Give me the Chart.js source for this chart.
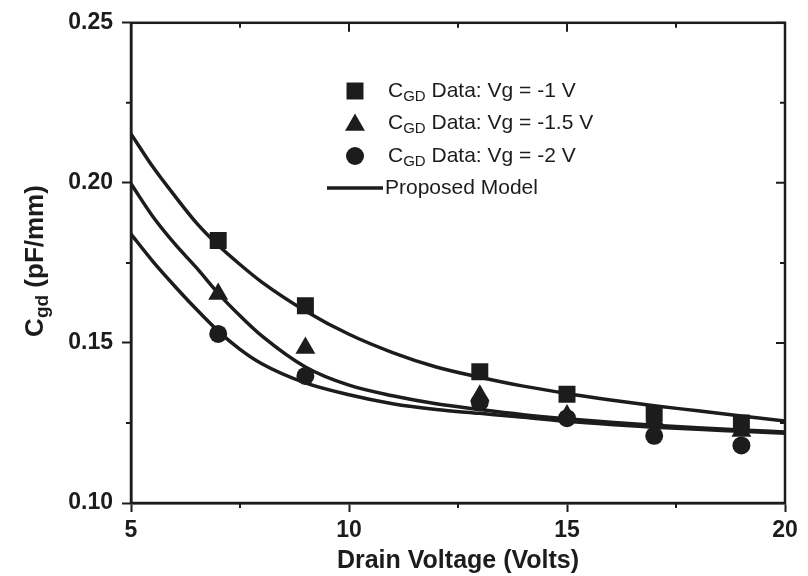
<!DOCTYPE html>
<html lang="en">
<head>
  <meta charset="UTF-8">
  <title>Cgd vs Drain Voltage</title>
  <script src="https://cdn.jsdelivr.net/npm/chart.js"></script>
  <style>
    html, body { margin: 0; padding: 0; background: #fff; }
    #wrap { width: 808px; height: 576px; }
  </style>
</head>
<body>
  <div id="wrap"><canvas id="grafico" width="808" height="576"></canvas></div>

  <script>
    // measured points
    const markerX  = [7, 9, 13, 15, 17, 19];
    const dataVg1  = [0.182, 0.1616, 0.141, 0.134, 0.128, 0.125];
    const dataVg15 = [0.1653, 0.1484, 0.1335, 0.1273, 0.126, 0.1225];
    const dataVg2  = [0.1528, 0.1397, 0.1315, 0.1265, 0.121, 0.118];

    // model curves
    const modelX     = [5, 5.5, 6, 6.5, 7, 7.5, 8, 9, 10, 11, 12, 13, 14, 15, 16, 17, 18, 19, 20];
    const modelVg1   = [0.2153, 0.2050, 0.1960, 0.1875, 0.1805, 0.1745, 0.1690, 0.1600, 0.1527, 0.1470, 0.1425, 0.1393, 0.1365, 0.1342, 0.1322, 0.1304, 0.1288, 0.1272, 0.1256];
    const modelVg15  = [0.1997, 0.1895, 0.1810, 0.1735, 0.1655, 0.1585, 0.1522, 0.1425, 0.1368, 0.1335, 0.1310, 0.1292, 0.1276, 0.1263, 0.1252, 0.1243, 0.1235, 0.1228, 0.1222];
    const modelVg2   = [0.1840, 0.1755, 0.1678, 0.1605, 0.1537, 0.1480, 0.1435, 0.1375, 0.1338, 0.1310, 0.1292, 0.1280, 0.1268, 0.1255, 0.1245, 0.1237, 0.1230, 0.1224, 0.1218];

    const xTicks = [5, 10, 15, 20];
    const yTicks = [0.10, 0.15, 0.20, 0.25];
    const legendNames = ['Data: Vg = -1 V', 'Data: Vg = -1.5 V', 'Data: Vg = -2 V', 'Proposed Model'];

    const ink = '#1c1c1c';
    const fam = '"Liberation Sans", Arial, sans-serif';
    const pts = (xs, ys) => xs.map((x, i) => ({ x: x, y: ys[i] }));

    function curve(ys) {
      return {
        data: pts(modelX, ys),
        showLine: true,
        borderColor: ink,
        borderWidth: 3.5,
        pointRadius: 0,
        cubicInterpolationMode: 'monotone',
        fill: false,
        order: 2
      };
    }
    function markers(ys, style, r) {
      return {
        data: pts(markerX, ys),
        showLine: false,
        pointStyle: style,
        pointRadius: r,
        pointBackgroundColor: ink,
        pointBorderColor: ink,
        pointBorderWidth: 0,
        order: 1
      };
    }

    // box, minor ticks, y title with subscript, legend
    const extras = {
      id: 'extras',
      afterDraw(chart) {
        const ctx = chart.ctx;
        const a = chart.chartArea;
        const xs = chart.scales.x, ys = chart.scales.y;
        ctx.save();
        ctx.strokeStyle = ink;
        ctx.lineWidth = 2.5;
        ctx.strokeRect(a.left, a.top, a.right - a.left, a.bottom - a.top);

        ctx.lineWidth = 2;
        ctx.beginPath();
        [7.5, 12.5, 17.5].forEach(v => {
          const px = xs.getPixelForValue(v);
          ctx.moveTo(px, a.bottom); ctx.lineTo(px, a.bottom + 5);
          ctx.moveTo(px, a.top); ctx.lineTo(px, a.top + 5);
        });
        [0.125, 0.175, 0.225].forEach(v => {
          const py = ys.getPixelForValue(v);
          ctx.moveTo(a.left, py); ctx.lineTo(a.left - 5, py);
          ctx.moveTo(a.right, py); ctx.lineTo(a.right - 5, py);
        });
        xTicks.forEach(v => {
          const px = xs.getPixelForValue(v);
          ctx.moveTo(px, a.top); ctx.lineTo(px, a.top + 9);
        });
        yTicks.forEach(v => {
          const py = ys.getPixelForValue(v);
          ctx.moveTo(a.right, py); ctx.lineTo(a.right - 9, py);
        });
        ctx.stroke();

        // y title
        ctx.fillStyle = ink;
        ctx.translate(36, 261);
        ctx.rotate(-Math.PI / 2);
        ctx.textBaseline = 'middle';
        const big = 'bold 26px ' + fam;
        const small = 'bold 19px ' + fam;
        ctx.font = big; const wC = ctx.measureText('C').width;
        const wRest = ctx.measureText(' (pF/mm)').width;
        ctx.font = small; const wSub = ctx.measureText('gd').width;
        let sx = -(wC + wSub + wRest) / 2;
        ctx.font = big; ctx.fillText('C', sx, 0); sx += wC;
        ctx.font = small; ctx.fillText('gd', sx, 7); sx += wSub;
        ctx.font = big; ctx.fillText(' (pF/mm)', sx, 0);
        ctx.restore();

        // legend
        ctx.save();
        ctx.fillStyle = ink;
        ctx.strokeStyle = ink;
        const rows = [91, 123, 156, 188];
        const styles = [['rect', 12], ['triangle', 11.5], ['circle', 9]];
        const tx = 388;
        ctx.textBaseline = 'middle';
        styles.forEach((s, i) => {
          Chart.helpers.drawPoint(ctx, { pointStyle: s[0], radius: s[1], rotation: 0, borderWidth: 0 }, 355, rows[i] + (s[0] === 'triangle' ? 2 : 0));
          ctx.font = '21px ' + fam;
          ctx.fillText('C', tx, rows[i]);
          const w1 = ctx.measureText('C').width;
          ctx.font = '15px ' + fam;
          ctx.fillText('GD', tx + w1, rows[i] + 6);
          const w2 = ctx.measureText('GD').width;
          ctx.font = '21px ' + fam;
          ctx.fillText(' ' + legendNames[i], tx + w1 + w2, rows[i]);
        });
        ctx.lineWidth = 3.5;
        ctx.beginPath();
        ctx.moveTo(327, rows[3]); ctx.lineTo(383, rows[3]);
        ctx.stroke();
        ctx.font = '21px ' + fam;
        ctx.fillText(legendNames[3], 385, rows[3]);
        ctx.restore();
      }
    };

    new Chart(document.getElementById('grafico'), {
      type: 'scatter',
      data: {
        datasets: [
          curve(modelVg1), curve(modelVg15), curve(modelVg2),
          markers(dataVg1, 'rect', 12),
          markers(dataVg15, 'triangle', 11.5),
          markers(dataVg2, 'circle', 9)
        ]
      },
      options: {
        responsive: false,
        animation: false,
        layout: { padding: { top: 22, right: 23, left: 0, bottom: 0 } },
        plugins: { legend: { display: false }, tooltip: { enabled: false } },
        scales: {
          x: {
            type: 'linear',
            min: 5, max: 20,
            afterBuildTicks: s => { s.ticks = xTicks.map(v => ({ value: v })); },
            afterFit: s => { s.height = 73; },
            ticks: {
              color: ink,
              padding: 5,
              font: { family: fam, size: 23, weight: 'bold' }
            },
            grid: { drawOnChartArea: false, color: ink, tickLength: 9, tickWidth: 2 },
            border: { color: ink, width: 2.5 },
            title: {
              display: true,
              text: 'Drain Voltage (Volts)',
              color: ink,
              padding: { top: 0, bottom: 0 },
              font: { family: fam, size: 25, weight: 'bold' }
            }
          },
          y: {
            type: 'linear',
            min: 0.10, max: 0.25,
            afterBuildTicks: s => { s.ticks = yTicks.map(v => ({ value: v })); },
            afterFit: s => { s.width = 131; },
            ticks: {
              color: ink,
              padding: 9,
              callback: v => v.toFixed(2),
              font: { family: fam, size: 23, weight: 'bold' }
            },
            grid: { drawOnChartArea: false, color: ink, tickLength: 9, tickWidth: 2 },
            border: { color: ink, width: 2.5 }
          }
        }
      },
      plugins: [extras]
    });
  </script>
</body>
</html>
